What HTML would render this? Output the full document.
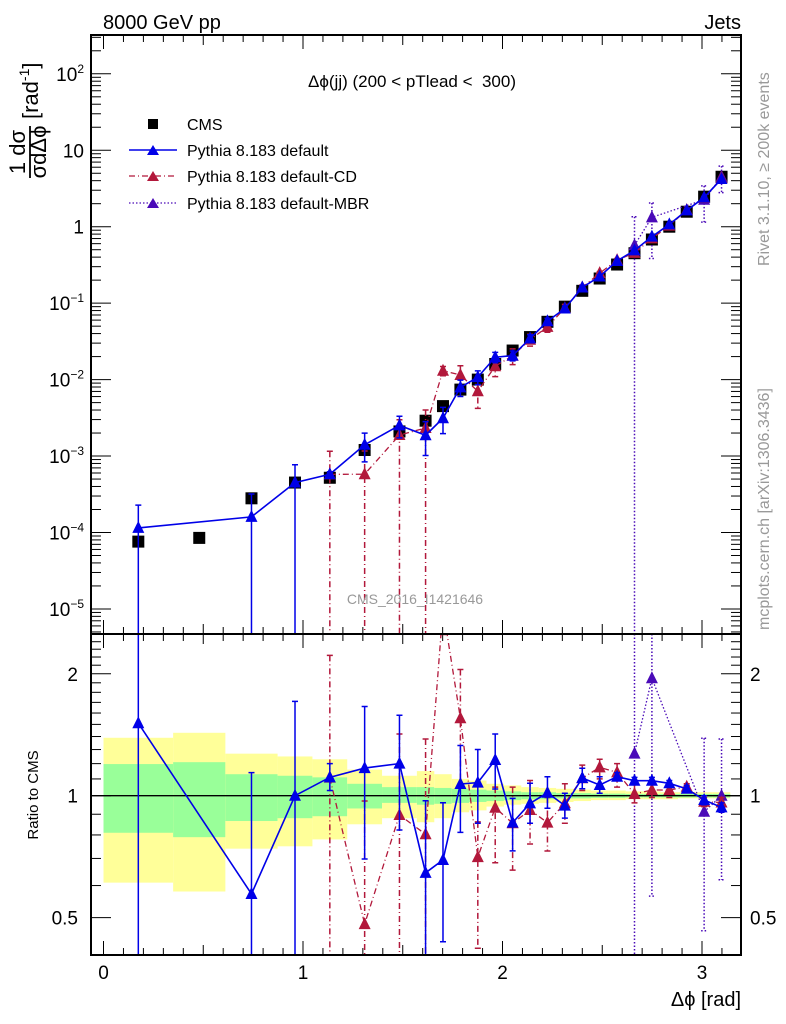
<!DOCTYPE html>
<html><head><meta charset="utf-8"><style>
html,body{margin:0;padding:0;background:#fff;overflow:hidden;}
svg{font-family:"Liberation Sans",sans-serif;display:block;}
</style></head><body>
<svg id="chart" width="786" height="1024" viewBox="0 0 786 1024" xmlns="http://www.w3.org/2000/svg">
<defs>
<clipPath id="clipMain"><rect x="91" y="35" width="650" height="599"/></clipPath>
<clipPath id="clipRatio"><rect x="91" y="634" width="650" height="321"/></clipPath>
</defs>
<rect width="786" height="1024" fill="#fff"/>
<text x="103" y="29" font-size="20">8000 GeV pp</text>
<text x="741" y="29" font-size="20" text-anchor="end">Jets</text>
<g id="bands" clip-path="url(#clipRatio)"></g>
<g id="grid"></g>
<g id="mainMarks" clip-path="url(#clipMain)"></g>
<g id="ratioMarks" clip-path="url(#clipRatio)"></g>
<rect x="91" y="35" width="650" height="599" fill="none" stroke="#000" stroke-width="2"/>
<rect x="91" y="634" width="650" height="321" fill="none" stroke="#000" stroke-width="2"/>
<text x="412" y="87" font-size="17" text-anchor="middle">Δϕ(jj) (200 &lt; pTlead &lt;&#160; 300)</text>
<g font-size="16">
<rect x="148" y="119" width="10" height="10" fill="#000"/>
<text x="187" y="130">CMS</text>
<line x1="129" y1="150" x2="177" y2="150" stroke="#0000e8" stroke-width="1.5"/>
<path d="M147,155 L153,145 L159,155Z" fill="#0000e8"/>
<text x="187" y="156">Pythia 8.183 default</text>
<line x1="129" y1="176" x2="177" y2="176" stroke="#b2183b" stroke-width="1.2" stroke-dasharray="6,3,1,3"/>
<path d="M147,181 L153,171 L159,181Z" fill="#b2183b"/>
<text x="187" y="182">Pythia 8.183 default-CD</text>
<line x1="129" y1="203" x2="177" y2="203" stroke="#4a0ab8" stroke-width="1.2" stroke-dasharray="1.5,2"/>
<path d="M147,208 L153,198 L159,208Z" fill="#4a0ab8"/>
<text x="187" y="209">Pythia 8.183 default-MBR</text>
</g>
<text x="415" y="604" font-size="14" fill="#999" text-anchor="middle">CMS_2016_I1421646</text>
<text transform="translate(769,266) rotate(-90)" font-size="16" fill="#999">Rivet 3.1.10, ≥ 200k events</text>
<text transform="translate(769,630) rotate(-90)" font-size="16" fill="#999">mcplots.cern.ch [arXiv:1306.3436]</text>
<g transform="translate(30,152) rotate(-90)">
<text x="0" y="-5" font-size="22" text-anchor="middle">1 dσ</text>
<line x1="-26" y1="0" x2="26" y2="0" stroke="#000" stroke-width="1.8"/>
<text x="0" y="16" font-size="22" text-anchor="middle">σdΔϕ</text>
<text x="33" y="8" font-size="22">[rad<tspan font-size="14" dy="-9">-1</tspan><tspan dy="9">]</tspan></text>
</g>
<text transform="translate(38,795) rotate(-90)" font-size="15" text-anchor="middle">Ratio to CMS</text>
<text x="741" y="1006" font-size="20" text-anchor="end">Δϕ [rad]</text>
<g id="labels" font-size="19"></g>
</svg>
<script>
const binEdges = [0, Math.PI/9, 7*Math.PI/36, 5*Math.PI/18, Math.PI/3, 7*Math.PI/18, 4*Math.PI/9, Math.PI/2,
 19*Math.PI/36, 20*Math.PI/36, 21*Math.PI/36, 22*Math.PI/36, 23*Math.PI/36, 24*Math.PI/36, 25*Math.PI/36, 26*Math.PI/36,
 27*Math.PI/36, 28*Math.PI/36, 29*Math.PI/36, 30*Math.PI/36, 31*Math.PI/36, 32*Math.PI/36, 33*Math.PI/36, 34*Math.PI/36, 35*Math.PI/36, Math.PI];
const cmsValues = [7.6e-5, 8.5e-5, 2.8e-4, 4.5e-4, 5.2e-4, 1.2e-3, 2.1e-3, 2.9e-3, 4.5e-3, 7.4e-3, 1.0e-2, 1.6e-2, 2.4e-2, 3.6e-2, 5.7e-2, 0.09, 0.145, 0.21, 0.32, 0.45, 0.68, 1.0, 1.57, 2.47, 4.5];
const defRatio = [1.51, null, 0.572, 1.0, 1.11, 1.17, 1.20, 0.645, 0.694, 1.069, 1.077, 1.225, 0.858, 0.957, 1.017, 0.945, 1.106, 1.063, 1.114, 1.089, 1.089, 1.073, 1.04, 0.976, 0.936];
const defHi = [3, null, 1.14, 1.71, 1.2, 1.66, 1.58, 0.972, 0.961, 1.33, 1.30, 1.42, 0.985, 1.073, 1.114, 1.014, 1.169, 1.114, 1.14, 1.11, 1.11, 1.09, 1.06, 1.0, 0.96];
const defLo = [0.001, null, 0.001, 0.001, 1.03, 0.698, 0.823, 0.35, 0.436, 0.812, 0.855, 1.039, 0.731, 0.855, 0.931, 0.88, 1.04, 1.014, 1.09, 1.07, 1.07, 1.055, 1.02, 0.95, 0.91];
const cdRatio = [null, null, null, null, 1.108, 0.482, 0.896, 0.803, 2.9, 1.553, 0.705, 0.934, 0.855, 0.922, 0.858, 0.958, 1.104, 1.175, 1.142, 1.01, 1.033, 1.033, 1.052, 0.966, 0.962];
const cdHi = [null, null, null, null, 2.22, 0.97, 1.42, 1.38, 3.3, 2.05, 0.862, 1.05, 1.05, 1.09, 0.99, 1.07, 1.19, 1.23, 1.2, 1.07, 1.09, 1.07, 1.07, 0.99, 0.99];
const cdLo = [null, null, null, null, 0.001, 0.001, 0.001, 0.001, 2.5, 1.06, 0.42, 0.683, 0.655, 0.76, 0.73, 0.855, 1.03, 1.10, 1.05, 0.96, 0.99, 0.99, 1.03, 0.94, 0.94];
const mbrRatio = [null, null, null, null, null, null, null, null, null, null, null, null, null, null, null, null, null, null, null, 1.27, 1.95, null, null, 0.913, 1.0];
const mbrHi = [null, null, null, null, null, null, null, null, null, null, null, null, null, null, null, null, null, null, null, 3, 3, null, null, 1.386, 1.38];
const mbrLo = [null, null, null, null, null, null, null, null, null, null, null, null, null, null, null, null, null, null, null, 0.000001, 0.565, null, null, 0.464, 0.62];
const yellowHi = [1.39, 1.43, 1.27, 1.25, 1.23, 1.16, 1.12, 1.15, 1.13, 1.10, 1.09, 1.07, 1.06, 1.05, 1.045, 1.04, 1.035, 1.03, 1.03, 1.025, 1.025, 1.02, 1.02, 1.02, 1.02];
const yellowLo = [0.61, 0.58, 0.74, 0.75, 0.78, 0.85, 0.88, 0.86, 0.88, 0.91, 0.92, 0.94, 0.95, 0.955, 0.96, 0.965, 0.97, 0.975, 0.975, 0.98, 0.98, 0.98, 0.985, 0.985, 0.985];
const greenHi = [1.197, 1.21, 1.13, 1.12, 1.11, 1.07, 1.05, 1.05, 1.045, 1.04, 1.035, 1.03, 1.025, 1.02, 1.02, 1.015, 1.015, 1.012, 1.012, 1.01, 1.01, 1.01, 1.01, 1.01, 1.01];
const greenLo = [0.81, 0.79, 0.866, 0.88, 0.89, 0.93, 0.96, 0.95, 0.955, 0.96, 0.965, 0.97, 0.975, 0.98, 0.98, 0.985, 0.985, 0.988, 0.988, 0.99, 0.99, 0.99, 0.99, 0.99, 0.99];
const mainTickLabels = ["10<tspan font-size='12' dy='-8'>2</tspan>", "10", "1", "10<tspan font-size='12' dy='-8'>−1</tspan>", "10<tspan font-size='12' dy='-8'>−2</tspan>", "10<tspan font-size='12' dy='-8'>−3</tspan>", "10<tspan font-size='12' dy='-8'>−4</tspan>", "10<tspan font-size='12' dy='-8'>−5</tspan>"];
const mainTickValues = [100, 10, 1, 0.1, 0.01, 1e-3, 1e-4, 1e-5];
const ratioTickValues = [2, 1, 0.5];
const ratioTickLabels = ["2", "1", "0.5"];
const xTickValues = [0, 1, 2, 3];

const NS = "http://www.w3.org/2000/svg";
const X = v => 103.5 + 199.5 * v;
const YM = v => 226.7 - 76.45 * Math.log10(v);
const YR = r => 795.7 - 405 * Math.log10(r);
function mk(tag, attrs, parent) { const e = document.createElementNS(NS, tag); for (const k in attrs) e.setAttribute(k, attrs[k]); parent.appendChild(e); return e; }
const centers = binEdges.slice(0, -1).map((e, i) => (e + binEdges[i + 1]) / 2);

const bands = document.getElementById('bands');
for (let i = 0; i < centers.length; i++) {
  const x1 = X(binEdges[i]), x2 = X(binEdges[i + 1]);
  const yb = mk('rect', {x: x1, y: YR(yellowHi[i]), width: x2 - x1, height: YR(yellowLo[i]) - YR(yellowHi[i]), fill: '#ffff99'}, bands);
  
  
  const gb = mk('rect', {x: x1, y: YR(greenHi[i]), width: x2 - x1, height: YR(greenLo[i]) - YR(greenHi[i]), fill: '#99ff99'}, bands);
  
  
}
const ratioMarks = document.getElementById('ratioMarks');
const unity = mk('line', {x1: 91, x2: 741, y1: YR(1), y2: YR(1), stroke: '#000', 'stroke-width': 1.3}, ratioMarks);



const grid = document.getElementById('grid');
function tick(x1, y1, x2, y2) { mk('line', {x1, y1, x2, y2, stroke: '#000', 'stroke-width': 1}, grid); }
for (let k = 0; k <= 31; k++) {
  const v = k / 10, x = X(v);
  if (x > 741) break;
  const len = (k % 10 === 0) ? 14 : (k % 5 === 0 ? 10 : 7);
  tick(x, 35, x, 35 + len); tick(x, 634, x, 634 - len);
  tick(x, 634, x, 634 + len); tick(x, 955, x, 955 - len);
}
for (let d = -6; d <= 2; d++) {
  for (let m = 1; m <= 9; m++) {
    const y = YM(m * Math.pow(10, d));
    if (y < 35 || y > 634) continue;
    const len = m === 1 ? 20 : 10;
    tick(91, y, 91 + len, y); tick(741, y, 741 - len, y);
  }
}
for (let r = 0.4; r <= 2.45; r += 0.1) {
  const y = YR(r); if (y < 634 || y > 955) continue;
  const major = Math.abs(r - 0.5) < 0.01 || Math.abs(r - 1) < 0.01 || Math.abs(r - 2) < 0.01;
  const len = major ? 20 : 10;
  tick(91, y, 91 + len, y); tick(741, y, 741 - len, y);
}
const labels = document.getElementById('labels');
mainTickValues.forEach((v, i) => {
  const t = mk('text', {x: 84, y: YM(v) + 7, 'text-anchor': 'end'}, labels);
  t.innerHTML = mainTickLabels[i];
  
  
});
ratioTickValues.forEach((v, i) => {
  const t = mk('text', {x: 78, y: YR(v) + 7, 'text-anchor': 'end'}, labels);
  t.textContent = ratioTickLabels[i];
  
  
  const t2 = mk('text', {x: 750, y: YR(v) + 7}, labels);
  t2.textContent = ratioTickLabels[i];
  
  
});
xTickValues.forEach(v => {
  const t = mk('text', {x: X(v), y: 979, 'text-anchor': 'middle'}, labels);
  t.textContent = String(v);
  
  
});

const mainMarks = document.getElementById('mainMarks');
function series(ratio, hi, lo, color, dash, width, name, mainG, ratioG) {
  const ptsM = [], ptsR = [];
  ratio.forEach((r, i) => {
    if (r === null) return;
    const x = X(centers[i]);
    ptsM.push([x, YM(r * cmsValues[i])]);
    ptsR.push([x, YR(r)]);
  });
  [[mainG, ptsM, v => YM(v), true], [ratioG, ptsR, v => YR(v), false]].forEach(([g, pts, Y, isMain]) => {
    const pl = mk('polyline', {points: pts.map(p => p.join(',')).join(' '), fill: 'none', stroke: color, 'stroke-width': width, 'stroke-dasharray': dash}, g);
    
    
    ratio.forEach((r, i) => {
      if (r === null) return;
      const x = X(centers[i]);
      const scale = isMain ? cmsValues[i] : 1;
      const yh = Y(hi[i] * scale), yl = Y(lo[i] * scale), y = Y(r * scale);
      const eb = mk('path', {d: `M${x},${yh}V${yl}M${x - 3},${yh}H${x + 3}M${x - 3},${yl}H${x + 3}`, stroke: color, 'stroke-width': 1.5, fill: 'none', 'stroke-dasharray': dash}, g);
      
      
      const m = mk('path', {d: `M${x - 6},${y + 5}L${x},${y - 7}L${x + 6},${y + 5}Z`, fill: color}, g);
      
      
    });
  });
}
cmsValues.forEach((v, i) => {
  const s = mk('rect', {x: X(centers[i]) - 6, y: YM(v) - 6, width: 12, height: 12, fill: '#000'}, mainMarks);
  
  
});
series(mbrRatio, mbrHi, mbrLo, '#4a0ab8', '1.5,2', 1.3, 'pythia-mbr', mainMarks, ratioMarks);
series(cdRatio, cdHi, cdLo, '#b2183b', '6,3,1,3', 1.3, 'pythia-cd', mainMarks, ratioMarks);
series(defRatio, defHi, defLo, '#0000e8', 'none', 1.6, 'pythia-default', mainMarks, ratioMarks);
</script>
</body></html>
